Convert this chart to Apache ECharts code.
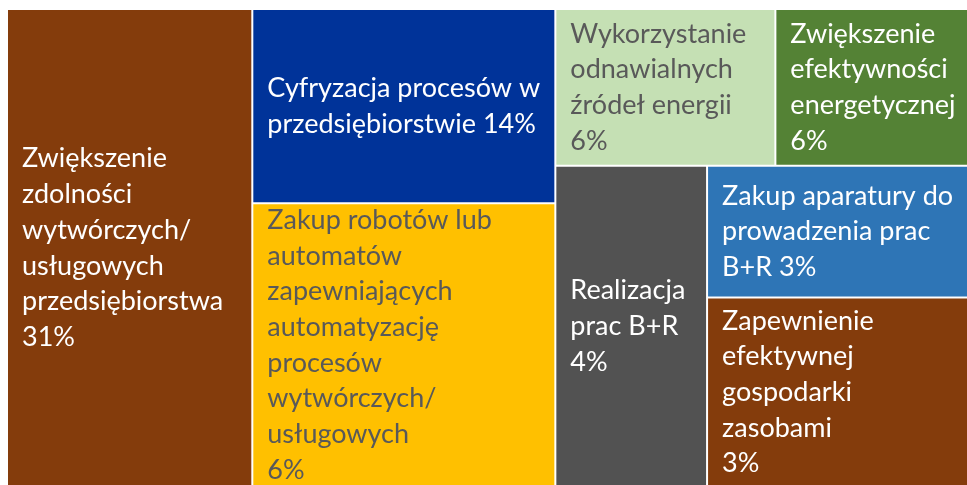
<!DOCTYPE html>
<html>
<head>
<meta charset="utf-8">
<script src="https://cdn.jsdelivr.net/npm/echarts@6/dist/echarts.min.js"></script>
<style>
html,body{margin:0;padding:0;background:#fff;}
#chart{width:967px;height:485px;}
</style>
</head>
<body>
<div id="chart"></div>
<script>
// Category names
const names = [
  'Zwiększenie zdolności wytwórczych/usługowych przedsiębiorstwa',
  'Cyfryzacja procesów w przedsiębiorstwie',
  'Zakup robotów lub automatów zapewniających automatyzację procesów wytwórczych/usługowych',
  'Wykorzystanie odnawialnych źródeł energii',
  'Zwiększenie efektywności energetycznej',
  'Realizacja prac B+R',
  'Zakup aparatury do prowadzenia prac B+R',
  'Zapewnienie efektywnej gospodarki zasobami'
];
// Percentages printed in the labels
const shares = ['31%', '14%', '6%', '6%', '6%', '4%', '3%', '3%'];
// Tile sizes (share of the total area)
const areas = [25.5, 12.8, 18.7, 7.5, 6.6, 10.6, 7.5, 10.8];
// Label text as wrapped in the picture
const labelText = [
  'Zwiększenie\nzdolności\nwytwórczych/\nusługowych\nprzedsiębiorstwa\n31%',
  'Cyfryzacja procesów w\nprzedsiębiorstwie 14%',
  'Zakup robotów lub\nautomatów\nzapewniających\nautomatyzację\nprocesów\nwytwórczych/\nusługowych\n6%',
  'Wykorzystanie\nodnawialnych\nźródeł energii\n6%',
  'Zwiększenie\nefektywności\nenergetycznej\n6%',
  'Realizacja\nprac B+R\n4%',
  'Zakup aparatury do\nprowadzenia prac\nB+R 3%',
  'Zapewnienie\nefektywnej\ngospodarki\nzasobami\n3%'
];
// Grouping of tiles (indices) that reproduces the picture's arrangement
const grouping = [0, [1, 2], [[3, 4], [5, [6, 7]]]];

// Styles
const palette = ['#843C0C', '#003399', '#FFC000', '#C5E0B4', '#548235', '#525252', '#2E75B6', '#843C0C'];
const textColors = ['#fff', '#fff', '#595959', '#595959', '#fff', '#fff', '#fff', '#fff'];
const labelNudge = [3, -2, 2, 1, 1, 5, 1, 5];     // vertical label nudge, px
const labelRoom = [0, 0, 4, 0, 0, 0, 0, 0];       // extra vertical room for long labels

function build(node) {
  if (Array.isArray(node)) {
    return {
      name: '',
      itemStyle: { borderWidth: 0, gapWidth: 0 },
      children: node.map(build)
    };
  }
  const i = node;
  const s = labelNudge[i], r = labelRoom[i];
  return {
    name: names[i],
    value: areas[i],
    share: shares[i],
    itemStyle: { color: palette[i], borderWidth: 1, borderColor: '#ffffff' },
    label: {
      formatter: labelText[i],
      color: textColors[i],
      padding: [s - r, 0, -s - r, 0]
    }
  };
}

const chart = echarts.init(document.getElementById('chart'), null, { renderer: 'canvas' });
chart.setOption({
  animation: false,
  series: [{
    type: 'treemap',
    left: 7, top: 9, width: 962, height: 478,
    roam: false,
    nodeClick: false,
    sort: false,
    squareRatio: 1,
    visibleMin: 0,
    breadcrumb: { show: false },
    itemStyle: { borderWidth: 0, gapWidth: 0, borderColor: '#ffffff' },
    upperLabel: { show: false },
    label: {
      show: true,
      position: 'insideLeft',
      distance: 14,
      fontFamily: 'Lato',
      fontSize: 27,
      lineHeight: 35.7,
      overflow: 'none',
      lineOverflow: 'none'
    },
    emphasis: { disabled: true },
    data: grouping.map(build)
  }]
});
</script>
</body>
</html>
